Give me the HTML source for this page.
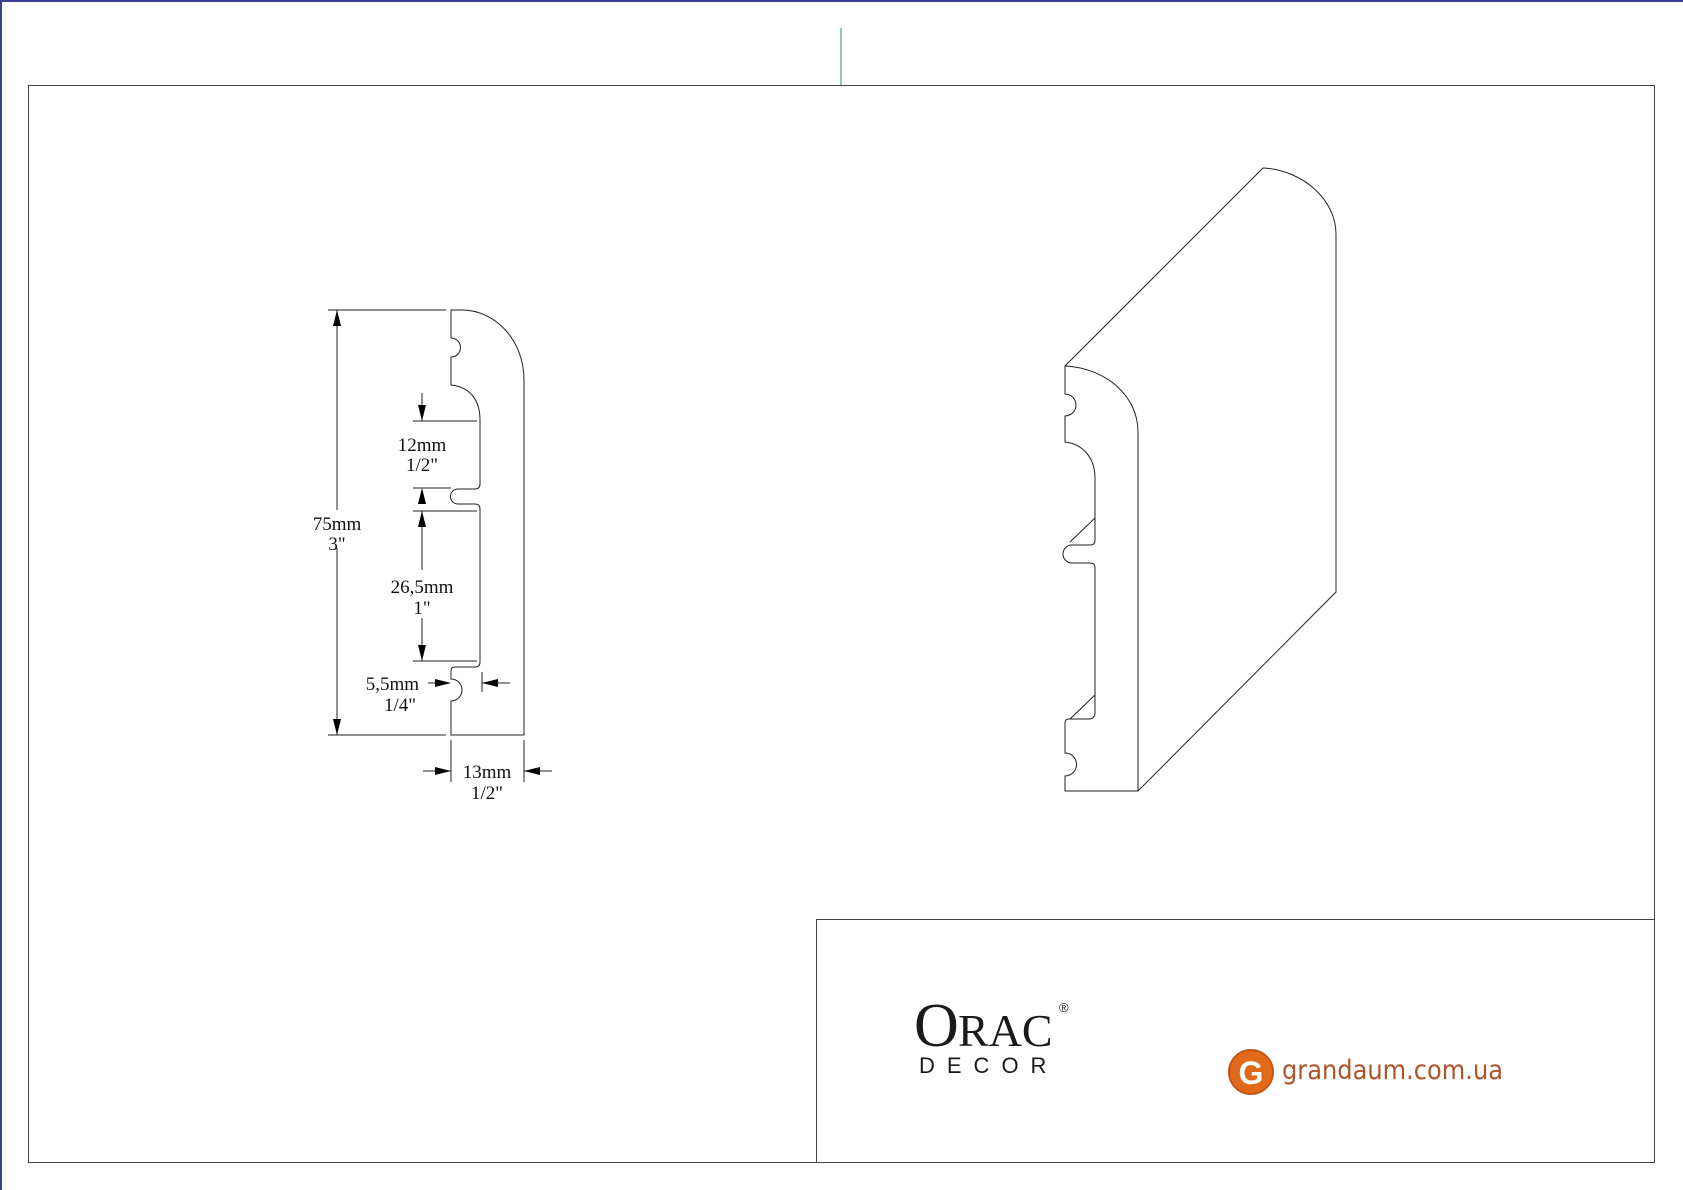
<!DOCTYPE html>
<html><head><meta charset="utf-8"><style>
html,body{margin:0;padding:0;background:#fff;}
svg{display:block;}
</style></head><body>
<svg width="1683" height="1190" viewBox="0 0 1683 1190" xmlns="http://www.w3.org/2000/svg">
<rect x="0" y="0" width="1683" height="1190" fill="#fff"/>
<line x1="1" y1="0" x2="1" y2="1190" stroke="#3a3f8f" stroke-width="2"/>
<line x1="0" y1="1" x2="1683" y2="1" stroke="#3a3f8f" stroke-width="2"/>
<line x1="841" y1="28" x2="841" y2="85" stroke="#2a8a8a" stroke-width="1"/>
<rect x="28.5" y="85.5" width="1626" height="1077" fill="none" stroke="#444" stroke-width="1"/>
<rect x="816.5" y="919.5" width="838" height="243" fill="none" stroke="#444" stroke-width="1"/>

<g fill="none" stroke="#222" stroke-width="1">
<path d="M451 310 L451 338 A9 9 0 0 1 451 357 L451 385 C470 387 480 400 480 420 L480 484 Q480 489 475 489 L458 489 A7.5 7.5 0 0 0 458 504 L475 504 Q480 504 480 509 L480 662 Q480 667 475 667 L455 667 Q451 667 451 671 L451 679 A11 11 0 0 1 451 701 L451 735 L524 735 L524 380 C524 340 495 310 462 310 Z"/>
<line x1="328" y1="310" x2="446" y2="310"/>
<line x1="328" y1="735" x2="446" y2="735"/>
<line x1="337" y1="310" x2="337" y2="510"/>
<line x1="337" y1="548" x2="337" y2="735"/>
<line x1="413" y1="421" x2="477" y2="421"/>
<line x1="413" y1="488" x2="451" y2="488"/>
<line x1="413" y1="511" x2="477" y2="511"/>
<line x1="413" y1="661" x2="477" y2="661"/>
<line x1="422" y1="393" x2="422" y2="421"/>
<line x1="422" y1="511" x2="422" y2="570"/>
<line x1="422" y1="618" x2="422" y2="661"/>
<line x1="428" y1="683" x2="450" y2="683"/>
<line x1="482" y1="683" x2="510" y2="683"/>
<line x1="482" y1="672" x2="482" y2="692"/>
<line x1="451" y1="740" x2="451" y2="782"/>
<line x1="524" y1="740" x2="524" y2="782"/>
<line x1="423" y1="771" x2="451" y2="771"/>
<line x1="524" y1="771" x2="552" y2="771"/>
</g>
<g fill="#000">
<polygon points="337,310 333,326 341,326"/>
<polygon points="337,735 333,719 341,719"/>
<polygon points="422,421 418,405 426,405"/>
<polygon points="422,488 418,504 426,504"/>
<polygon points="422,511 418,527 426,527"/>
<polygon points="422,661 418,645 426,645"/>
<polygon points="451,683 435,679 435,687"/>
<polygon points="482,683 498,679 498,687"/>
<polygon points="451,771 435,767 435,775"/>
<polygon points="524,771 540,767 540,775"/>
</g>
<g font-family="Liberation Serif, serif" font-size="19" fill="#111" text-anchor="middle">
<text x="337" y="530">75mm</text>
<text x="337" y="550">3"</text>
<text x="422" y="451">12mm</text>
<text x="422" y="471">1/2"</text>
<text x="422" y="593">26,5mm</text>
<text x="422" y="614">1"</text>
<text x="419" y="690" text-anchor="end">5,5mm</text>
<text x="400" y="711">1/4"</text>
<text x="487" y="778">13mm</text>
<text x="487" y="799">1/2"</text>
</g>

<g fill="none" stroke="#222" stroke-width="1">
<path d="M1065 366 L1065 394 A11 11 0 0 1 1065 416 L1065 442 C1083 444 1095 458 1095 478 L1095 540 Q1095 545 1090 545 L1072 545 A8.5 8.5 0 0 0 1072 563 L1090 563 Q1095 563 1095 568 L1095 712 Q1095 719 1089 719 L1069 719 Q1065 719 1065 723 L1065 753 A11.5 11.5 0 0 1 1065 776 L1065 791 L1138 791 L1138 432 C1138 395 1105 368 1065 366 Z"/>
<line x1="1095" y1="518" x2="1070" y2="542"/>
<line x1="1095" y1="695" x2="1070" y2="719"/>
<line x1="1065" y1="366" x2="1263" y2="168"/>
<path d="M1263 168 C1303 170 1336 200 1336 234 L1336 592 L1138 791"/>
</g>

<g font-family="Liberation Serif, serif" fill="#1a1a1a">
<text x="914" y="1046" font-size="62">O</text>
<text x="958" y="1046" font-size="46">RAC</text>
<text x="1059" y="1012" font-size="13" font-family="Liberation Sans, sans-serif">®</text>
</g>
<text x="919" y="1073" font-family="Liberation Sans, sans-serif" font-size="22" letter-spacing="12" fill="#1a1a1a">DECOR</text>
<circle cx="1251" cy="1072" r="22" fill="#e06a1a"/>
<circle cx="1251" cy="1072" r="22" fill="none" stroke="#c4551a" stroke-width="2"/>
<text x="1251" y="1084" font-family="Liberation Sans, sans-serif" font-size="32" font-weight="bold" fill="#fff" text-anchor="middle">G</text>
<text x="1282" y="1079" font-family="DejaVu Sans, sans-serif" font-size="27" fill="#b0532a" textLength="221" lengthAdjust="spacingAndGlyphs">grandaum.com.ua</text>
</svg>
</body></html>
